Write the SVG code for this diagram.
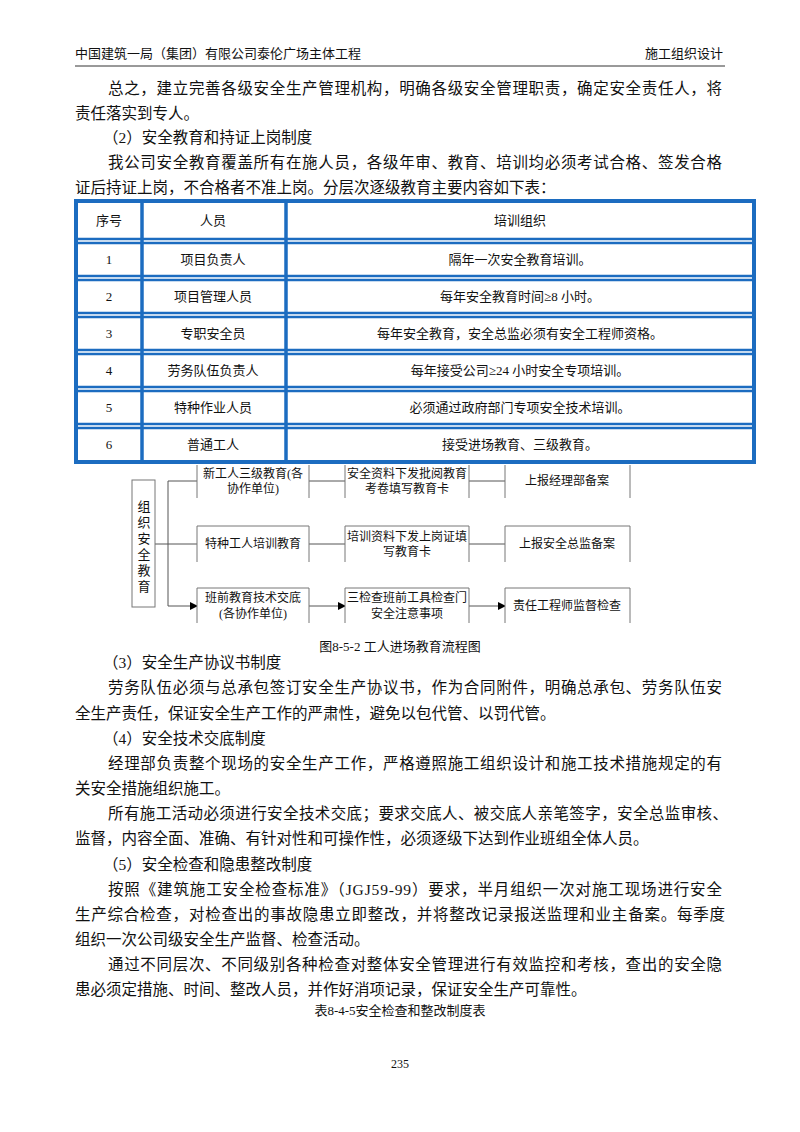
<svg xmlns="http://www.w3.org/2000/svg" width="800" height="1132" viewBox="0 0 800 1132">
<style>
text{font-family:"Liberation Serif","Noto Sans CJK SC",serif;fill:#111}
.b{font-size:15.5px}
.s{font-size:13px}
.f{font-size:12px}
.c{text-anchor:middle}
.tb{stroke:#1c6cc0;fill:none}
.bx{stroke:#777;stroke-width:1;fill:#fff}
.ln{stroke:#555;stroke-width:1;fill:none}
</style>
<defs><marker id="ar" markerWidth="8" markerHeight="8" refX="7" refY="4" orient="auto" markerUnits="userSpaceOnUse"><path d="M0,0 L8,4 L0,8 z" fill="#000"/></marker></defs>
<rect width="800" height="1132" fill="#fff"/>
<g id="header">
<text x="75" y="58" class="s">中国建筑一局（集团）有限公司泰伦广场主体工程</text>
<text x="723" y="58" class="s" text-anchor="end">施工组织设计</text>
<line x1="75" y1="66" x2="725" y2="66" stroke="#000" stroke-width="0.8"/>
</g>
<g id="body1" class="b">
<text x="108" y="94" textLength="614" lengthAdjust="spacing">总之，建立完善各级安全生产管理机构，明确各级安全管理职责，确定安全责任人，将</text>
<text x="75" y="119">责任落实到专人。</text>
<text x="103" y="143">（2）安全教育和持证上岗制度</text>
<text x="108" y="168" textLength="614" lengthAdjust="spacing">我公司安全教育覆盖所有在施人员，各级年审、教育、培训均必须考试合格、签发合格</text>
<text x="75" y="193">证后持证上岗，不合格者不准上岗。分层次逐级教育主要内容如下表：</text>
</g>
<g id="table">
<rect x="76" y="201" width="678" height="261" class="tb" stroke-width="4"/>
<line x1="142" y1="203" x2="142" y2="460" class="tb" stroke-width="3.5"/>
<line x1="286" y1="203" x2="286" y2="460" class="tb" stroke-width="3.5"/>
<g class="tb" stroke-width="2.5">
<path d="M78,239H752M78,243H752M78,276H752M78,280H752M78,313H752M78,317H752M78,350H752M78,354H752M78,387H752M78,391H752M78,424H752M78,428H752"/>
</g>
<g class="s c">
<text x="109" y="225">序号</text><text x="213" y="225">人员</text><text x="520" y="225">培训组织</text>
<text x="109" y="264">1</text><text x="213" y="264">项目负责人</text><text x="520" y="264">隔年一次安全教育培训。</text>
<text x="109" y="301">2</text><text x="213" y="301">项目管理人员</text><text x="520" y="301">每年安全教育时间≥8 小时。</text>
<text x="109" y="338">3</text><text x="213" y="338">专职安全员</text><text x="520" y="338">每年安全教育，安全总监必须有安全工程师资格。</text>
<text x="109" y="375">4</text><text x="213" y="375">劳务队伍负责人</text><text x="520" y="375">每年接受公司≥24 小时安全专项培训。</text>
<text x="109" y="412">5</text><text x="213" y="412">特种作业人员</text><text x="520" y="412">必须通过政府部门专项安全技术培训。</text>
<text x="109" y="449">6</text><text x="213" y="449">普通工人</text><text x="520" y="449">接受进场教育、三级教育。</text>
</g>
</g>
<g id="connectors" class="ln">
<path d="M155,544H168M168,481V606"/>
<path d="M168,481H197M168,544H197M168,606H197" marker-end="url(#ar)"/>
<path d="M309,481H345M309,544H345M309,606H345" marker-end="url(#ar)"/>
<path d="M469,481H505M469,544H505M469,606H505" marker-end="url(#ar)"/>
</g>
<g id="n0"><rect x="132" y="480" width="23" height="127" class="bx"/>
<g class="s c"><text x="144" y="511">组</text><text x="144" y="527">织</text><text x="144" y="543">安</text><text x="144" y="559">全</text><text x="144" y="575">教</text><text x="144" y="591">育</text></g></g>
<g id="n11"><path d="M197,498V465M309,465V498" class="bx"/><text class="f c" x="253" y="478">新工人三级教育(各</text><text class="f c" x="253" y="493">协作单位)</text></g>
<g id="n12"><path d="M345,498V465M469,465V498" class="bx"/><text class="f c" x="407" y="478">安全资料下发批阅教育</text><text class="f c" x="407" y="493">考卷填写教育卡</text></g>
<g id="n13"><path d="M505,498V465M630,465V498" class="bx"/><text class="f c" x="567" y="485">上报经理部备案</text></g>
<g id="n21"><path d="M197,562V526H309V562" class="bx"/><text class="f c" x="253" y="548">特种工人培训教育</text></g>
<g id="n22"><path d="M345,562V526H469V562" class="bx"/><text class="f c" x="407" y="541">培训资料下发上岗证填</text><text class="f c" x="407" y="556">写教育卡</text></g>
<g id="n23"><path d="M505,562V526H630V562" class="bx"/><text class="f c" x="567" y="548">上报安全总监备案</text></g>
<g id="n31"><path d="M197,623V588H309V623" class="bx"/><text class="f c" x="253" y="602">班前教育技术交底</text><text class="f c" x="253" y="618">(各协作单位)</text></g>
<g id="n32"><path d="M345,623V588H469V623" class="bx"/><text class="f c" x="407" y="602">三检查班前工具检查门</text><text class="f c" x="407" y="618">安全注意事项</text></g>
<g id="n33"><path d="M505,623V588H630V623" class="bx"/><text class="f c" x="567" y="610">责任工程师监督检查</text></g>
<text class="s c" x="400" y="651">图8-5-2 工人进场教育流程图</text>
<g id="body2" class="b">
<text x="103" y="668">（3）安全生产协议书制度</text>
<text x="108" y="693" textLength="614" lengthAdjust="spacing">劳务队伍必须与总承包签订安全生产协议书，作为合同附件，明确总承包、劳务队伍安</text>
<text x="75" y="719">全生产责任，保证安全生产工作的严肃性，避免以包代管、以罚代管。</text>
<text x="103" y="744">（4）安全技术交底制度</text>
<text x="108" y="769" textLength="614" lengthAdjust="spacing">经理部负责整个现场的安全生产工作，严格遵照施工组织设计和施工技术措施规定的有</text>
<text x="75" y="794">关安全措施组织施工。</text>
<text x="108" y="819" textLength="620" lengthAdjust="spacing">所有施工活动必须进行安全技术交底；要求交底人、被交底人亲笔签字，安全总监审核、</text>
<text x="75" y="844">监督，内容全面、准确、有针对性和可操作性，必须逐级下达到作业班组全体人员。</text>
<text x="103" y="870">（5）安全检查和隐患整改制度</text>
<text x="108" y="895" textLength="614" lengthAdjust="spacing">按照《建筑施工安全检查标准》（JGJ59-99）要求，半月组织一次对施工现场进行安全</text>
<text x="75" y="920" textLength="650" lengthAdjust="spacing">生产综合检查，对检查出的事故隐患立即整改，并将整改记录报送监理和业主备案。每季度</text>
<text x="75" y="945">组织一次公司级安全生产监督、检查活动。</text>
<text x="108" y="970" textLength="614" lengthAdjust="spacing">通过不同层次、不同级别各种检查对整体安全管理进行有效监控和考核，查出的安全隐</text>
<text x="75" y="995">患必须定措施、时间、整改人员，并作好消项记录，保证安全生产可靠性。</text>
</g>
<text class="s c" x="400" y="1015">表8-4-5安全检查和整改制度表</text>
<text class="c" x="400" y="1068" font-size="12">235</text>
</svg>
